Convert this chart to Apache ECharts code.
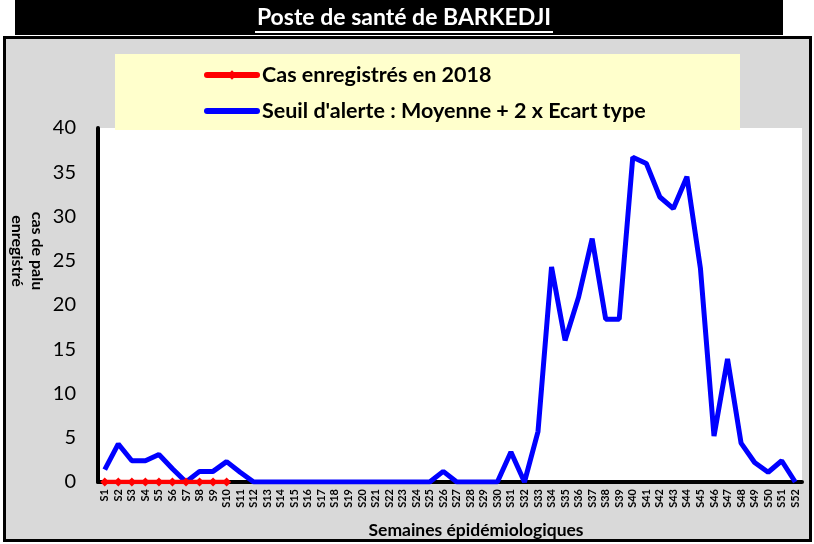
<!DOCTYPE html>
<html><head><meta charset="utf-8">
<script src="https://cdn.jsdelivr.net/npm/echarts@6/dist/echarts.min.js"></script>
<style>html,body{margin:0;padding:0;background:#fff}#c{width:814px;height:544px}</style>
</head><body><div id="c"></div>
<script>
var weeks = [];
for (var i = 1; i <= 52; i++) weeks.push('S' + i);
var cas2018 = [0,0,0,0,0,0,0,0,0,0];
var seuil = [1.4,4.3,2.4,2.4,3.1,1.5,0,1.2,1.2,2.3,1.1,0,0,0,0,0,0,0,0,0,0,0,0,0,0,1.2,0,0,0,0,3.4,0,5.7,24.3,16.0,20.9,27.5,18.4,18.4,36.7,36.0,32.2,30.9,34.5,24.1,5.2,13.9,4.4,2.2,1.1,2.4,0];
var yTicks = {min:0, max:40, interval:5};
var font = 'Lato';
var chart = echarts.init(document.getElementById('c'));
chart.setOption({
  backgroundColor: '#ffffff',
  animation: false,
  textStyle: {fontFamily: font},
  graphic: [
    {type:'rect', z:-10, shape:{x:4.5,y:37.5,width:806,height:503}, style:{fill:'#D9D9D9', stroke:'#000', lineWidth:3}},
    {type:'rect', z:3, shape:{x:115,y:54,width:625,height:76}, style:{fill:'#FFFFCC'}},
    {type:'rect', z:10, shape:{x:15,y:0,width:768,height:35}, style:{fill:'#000'}},
    {type:'text', z:11, x:404, y:18, style:{text:'Poste de santé de BARKEDJI', fill:'#fff', font:'bold 23px Lato', align:'center', verticalAlign:'middle'}},
    {type:'line', z:11, shape:{x1:255,y1:32,x2:553,y2:32}, style:{stroke:'#fff', lineWidth:2}},
    {type:'text', z:11, x:37, y:251, rotation:-Math.PI/2, style:{text:'cas de palu', fill:'#000', font:'bold 16px Lato', align:'center', verticalAlign:'middle'}},
    {type:'text', z:11, x:17, y:251, rotation:-Math.PI/2, style:{text:'enregistré', fill:'#000', font:'bold 16px Lato', align:'center', verticalAlign:'middle'}},
    {type:'text', z:11, x:476, y:530, style:{text:'Semaines épidémiologiques', fill:'#000', font:'bold 17.5px Lato', align:'center', verticalAlign:'middle'}}
  ],
  legend: {
    orient:'vertical', left:204, top:64, padding:0, itemWidth:50, itemHeight:12, itemGap:14,
    lineStyle:{width:6, cap:'round'},
    textStyle:{fontFamily:font, fontWeight:'bold', fontSize:21.5, color:'#000'},
    data:['Cas enregistrés en 2018', {name:"Seuil d'alerte : Moyenne + 2 x Ecart type", itemStyle:{opacity:0}}]
  },
  grid: {left:98, right:12, top:128, bottom:62, show:true, backgroundColor:'#fff', borderWidth:0},
  xAxis: {
    type:'category', data:weeks, boundaryGap:true,
    axisLine:{lineStyle:{color:'#000', width:4}},
    axisTick:{show:false},
    axisLabel:{interval:0, rotate:90, fontFamily:font, fontWeight:'bold', fontSize:11, color:'#000', margin:7}
  },
  yAxis: {
    type:'value', min:yTicks.min, max:yTicks.max, interval:yTicks.interval,
    splitLine:{show:false},
    axisLine:{show:true, lineStyle:{color:'#000', width:4}},
    axisTick:{show:false},
    axisLabel:{fontFamily:font, fontSize:20, color:'#000', margin:22}
  },
  series: [
    {name:"Seuil d'alerte : Moyenne + 2 x Ecart type", type:'line', data:seuil, symbol:'none', z:3,
     lineStyle:{color:'#0000FF', width:5}, itemStyle:{color:'#0000FF'}},
    {name:'Cas enregistrés en 2018', type:'line', data:cas2018, symbol:'diamond', symbolSize:9, z:4,
     lineStyle:{color:'#FF0000', width:4.5}, itemStyle:{color:'#FF0000'}}
  ]
});
</script></body></html>
